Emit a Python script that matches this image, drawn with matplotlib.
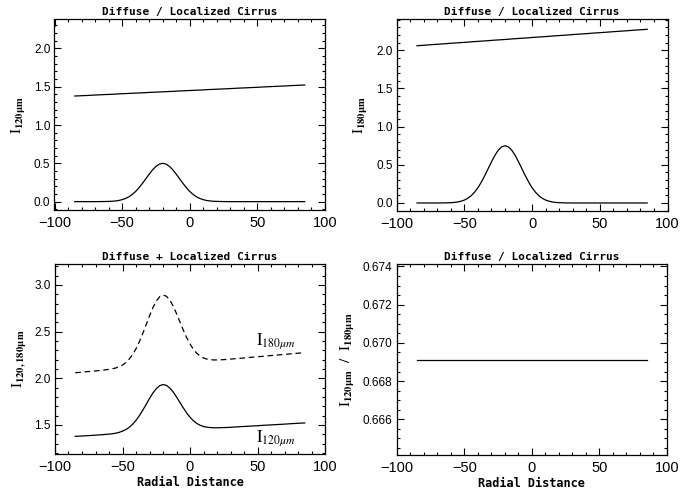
import numpy as np
import matplotlib
matplotlib.use('Agg')
import matplotlib.pyplot as plt
from matplotlib.ticker import MultipleLocator

plt.rcParams['mathtext.fontset'] = 'stix'
plt.rcParams['font.family'] = 'Liberation Sans'

# Radial distance grid
radial_distance = [-85, -80, -75, -70, -65, -60, -57.5, -55, -52.5, -50, -47.5, -45, -42.5, -40,
                   -37.5, -35, -32.5, -30, -27.5, -25, -22.5, -20, -17.5, -15, -12.5, -10, -7.5,
                   -5, -2.5, 0, 2.5, 5, 7.5, 10, 12.5, 15, 17.5, 20, 25, 30, 35, 40, 45, 50, 55,
                   60, 65, 70, 75, 80, 85]

# diffuse cirrus (linear background)
diffuse_120 = [1.378, 1.382, 1.386, 1.391, 1.395, 1.399, 1.401, 1.403, 1.406, 1.408, 1.410, 1.412,
               1.414, 1.416, 1.418, 1.420, 1.422, 1.425, 1.427, 1.429, 1.431, 1.433, 1.435, 1.437,
               1.439, 1.442, 1.444, 1.446, 1.448, 1.450, 1.452, 1.454, 1.456, 1.458, 1.461, 1.463,
               1.465, 1.467, 1.471, 1.475, 1.480, 1.484, 1.488, 1.492, 1.497, 1.501, 1.505, 1.509,
               1.514, 1.518, 1.522]
diffuse_180 = [2.060, 2.066, 2.073, 2.079, 2.085, 2.092, 2.095, 2.098, 2.101, 2.104, 2.107, 2.111,
               2.114, 2.117, 2.120, 2.123, 2.126, 2.130, 2.133, 2.136, 2.139, 2.142, 2.145, 2.149,
               2.152, 2.155, 2.158, 2.161, 2.164, 2.168, 2.171, 2.174, 2.177, 2.180, 2.183, 2.187,
               2.190, 2.193, 2.199, 2.206, 2.212, 2.218, 2.225, 2.231, 2.237, 2.244, 2.250, 2.256,
               2.263, 2.269, 2.275]

# localized cirrus (bump at -20)
local_120 = [0, 0, 0, 0, 0.001, 0.003, 0.005, 0.009, 0.015, 0.026, 0.041, 0.063, 0.094, 0.133,
             0.182, 0.238, 0.298, 0.359, 0.415, 0.460, 0.490, 0.500, 0.490, 0.460, 0.415, 0.359,
             0.298, 0.238, 0.182, 0.133, 0.094, 0.063, 0.041, 0.026, 0.015, 0.009, 0.005, 0.003,
             0.001, 0, 0, 0, 0, 0, 0, 0, 0, 0, 0, 0, 0]
local_180 = [0, 0, 0, 0, 0.001, 0.004, 0.007, 0.013, 0.023, 0.038, 0.062, 0.095, 0.141, 0.200,
             0.273, 0.357, 0.448, 0.539, 0.623, 0.691, 0.735, 0.750, 0.735, 0.691, 0.623, 0.539,
             0.448, 0.357, 0.273, 0.200, 0.141, 0.095, 0.062, 0.038, 0.023, 0.013, 0.007, 0.004,
             0.001, 0, 0, 0, 0, 0, 0, 0, 0, 0, 0, 0, 0]

ratio_x = [-85, 85]
ratio_120_180 = [0.6691, 0.6691]

x = np.array(radial_distance)
total_120 = np.array(diffuse_120) + np.array(local_120)
total_180 = np.array(diffuse_180) + np.array(local_180)

fig = plt.figure(figsize=(6.96, 4.90), dpi=100)
W, H = 696.0, 490.0


def make_axes(left, top, right, bottom):
    return fig.add_axes([left / W, 1 - bottom / H, (right - left) / W, (bottom - top) / H])


ax1 = make_axes(54.5, 19, 325, 210)
ax2 = make_axes(396.7, 19, 667.5, 211)
ax3 = make_axes(55, 264, 325, 454)
ax4 = make_axes(396.7, 264, 667, 455)

title_font = dict(family='DejaVu Sans Mono', fontweight='bold', fontsize=8)
lw = 0.9

ax1.plot(x, diffuse_120, color='black', lw=lw)
ax1.plot(x, local_120, color='black', lw=lw)
ax1.set_ylim(-0.109, 2.383)
ax1.set_ylabel(r'$\mathrm{I}_{\mathbf{120\mu m}}$', fontsize=11)
ax1.yaxis.set_major_locator(MultipleLocator(0.5))
ax1.yaxis.set_minor_locator(MultipleLocator(0.1))
ax1.yaxis.set_major_formatter(plt.FormatStrFormatter('%.1f'))

ax2.plot(x, diffuse_180, color='black', lw=lw)
ax2.plot(x, local_180, color='black', lw=lw)
ax2.set_ylim(-0.105, 2.41)
ax2.set_ylabel(r'$\mathrm{I}_{\mathbf{180\mu m}}$', fontsize=11)
ax2.yaxis.set_major_locator(MultipleLocator(0.5))
ax2.yaxis.set_minor_locator(MultipleLocator(0.1))
ax2.yaxis.set_major_formatter(plt.FormatStrFormatter('%.1f'))

ax3.plot(x, total_120, color='black', lw=lw)
ax3.plot(x, total_180, color='black', lw=lw, dashes=(4.5, 3))
ax3.set_ylim(1.189, 3.225)
ax3.set_ylabel(r'$\mathrm{I}_{\mathbf{120,180\mu m}}$', fontsize=11)
ax3.yaxis.set_major_locator(MultipleLocator(0.5))
ax3.yaxis.set_minor_locator(MultipleLocator(0.1))
ax3.yaxis.set_major_formatter(plt.FormatStrFormatter('%.1f'))
ax3.text(49, 2.36, r'$\mathrm{I}_{180\mu m}$', fontsize=12)
ax3.text(49, 1.32, r'$\mathrm{I}_{120\mu m}$', fontsize=12)

ax4.plot(ratio_x, ratio_120_180, color='black', lw=lw)
ax4.set_ylim(0.66413, 0.67413)
ax4.set_ylabel(r'$\mathrm{I}_{\mathbf{120\mu m}}\ \ /\ \ \mathrm{I}_{\mathbf{180\mu m}}$', fontsize=11)
ax4.yaxis.set_major_locator(MultipleLocator(0.002))
ax4.yaxis.set_minor_locator(MultipleLocator(0.0005))
ax4.yaxis.set_major_formatter(plt.FormatStrFormatter('%.3f'))

for ax in (ax1, ax2):
    ax.set_title('Diffuse / Localized Cirrus', pad=3, **title_font)
ax3.set_title('Diffuse + Localized Cirrus', pad=3, **title_font)
ax4.set_title('Diffuse / Localized Cirrus', pad=3, **title_font)

for ax in (ax3, ax4):
    ax.set_xlabel('Radial Distance', family='DejaVu Sans Mono', fontweight='bold',
                  fontsize=8.6, labelpad=2)

for ax in (ax1, ax2, ax3, ax4):
    ax.set_xlim(-100, 100)
    ax.xaxis.set_major_locator(MultipleLocator(50))
    ax.xaxis.set_minor_locator(MultipleLocator(10))
    ax.tick_params(which='both', direction='in', top=True, right=True, width=0.8)
    ax.tick_params(which='major', length=5)
    ax.tick_params(which='minor', length=2.5)
    ax.tick_params(axis='x', labelsize=10.5, pad=4)
    ax.tick_params(axis='y', labelsize=8.5, pad=3)
    for s in ax.spines.values():
        s.set_linewidth(0.9)

fig.savefig('out.png', dpi=100)
